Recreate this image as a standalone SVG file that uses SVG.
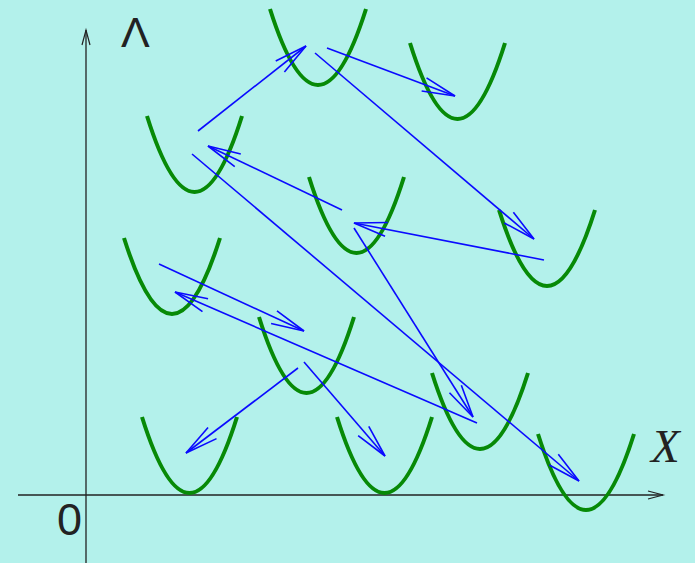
<svg xmlns="http://www.w3.org/2000/svg" width="695" height="563" viewBox="0 0 695 563">
<defs>
<style>
.para{fill:none;stroke:#078a07;stroke-width:4;stroke-linecap:butt}
.arr{fill:none;stroke:#0a0aff;stroke-width:1.6;marker-end:url(#ah)}
.axis{fill:none;stroke:#222;stroke-width:1.3}
.lbl{fill:#222}
</style>
<marker id="ah" markerUnits="userSpaceOnUse" markerWidth="40" markerHeight="20" refX="0" refY="10" orient="auto" viewBox="-36 0 40 20" overflow="visible">
<path d="M-33,3 L0,10 L-33,17" fill="none" stroke="#0a0aff" stroke-width="1.6"/>
</marker>
<marker id="axh" markerUnits="userSpaceOnUse" markerWidth="20" markerHeight="12" refX="0" refY="6" orient="auto" viewBox="-16 0 20 12" overflow="visible">
<path d="M-15,2 L0,6 L-15,10" fill="none" stroke="#222" stroke-width="1.2"/>
</marker>
</defs>
<rect width="695" height="563" fill="#b3f1eb"/>
<g id="axes">
<line class="axis" x1="86" y1="563" x2="86" y2="30" marker-end="url(#axh)"/>
<line class="axis" x1="18" y1="495" x2="663" y2="495" marker-end="url(#axh)"/>
<text class="lbl" x="121" y="47" font-family="Liberation Sans, sans-serif" font-size="43">Λ</text>
<text class="lbl" x="57" y="535" font-family="Liberation Sans, sans-serif" font-size="45">0</text>
<text class="lbl" x="651" y="462" font-family="Liberation Serif, serif" font-style="italic" font-size="47">X</text>
</g>
<g id="p1"><path class="para" d="M270,9 Q318,161 366,9"/></g>
<g id="p2"><path class="para" d="M410,43 Q457.5,195 505,43"/></g>
<g id="p3"><path class="para" d="M147,116 Q194.5,268 242,116"/></g>
<g id="p4"><path class="para" d="M309,177 Q356.5,329 404,177"/></g>
<g id="p5"><path class="para" d="M499,210 Q547,362 595,210"/></g>
<g id="p6"><path class="para" d="M124,238 Q172,390 220,238"/></g>
<g id="p7"><path class="para" d="M259,317 Q306.5,469 354,317"/></g>
<g id="p8"><path class="para" d="M432,373 Q480,525 528,373"/></g>
<g id="p9"><path class="para" d="M142,417 Q189.5,569 237,417"/></g>
<g id="p10"><path class="para" d="M337,417 Q384.5,569 432,417"/></g>
<g id="p11"><path class="para" d="M538,434 Q586,586 634,434"/></g>
<g id="connectors">
<line class="arr" x1="198" y1="131" x2="306" y2="46"/>
<line class="arr" x1="327" y1="48" x2="455" y2="96"/>
<line class="arr" x1="315" y1="53" x2="534" y2="239"/>
<line class="arr" x1="342" y1="210" x2="208" y2="146"/>
<line class="arr" x1="192" y1="154" x2="579" y2="481"/>
<line class="arr" x1="544" y1="260" x2="354" y2="223"/>
<line class="arr" x1="354" y1="228" x2="473" y2="417"/>
<line class="arr" x1="159" y1="264" x2="304" y2="331"/>
<line class="arr" x1="477" y1="423" x2="175" y2="292"/>
<line class="arr" x1="298" y1="368" x2="186" y2="453"/>
<line class="arr" x1="304" y1="362" x2="385" y2="456"/>
</g>
</svg>
